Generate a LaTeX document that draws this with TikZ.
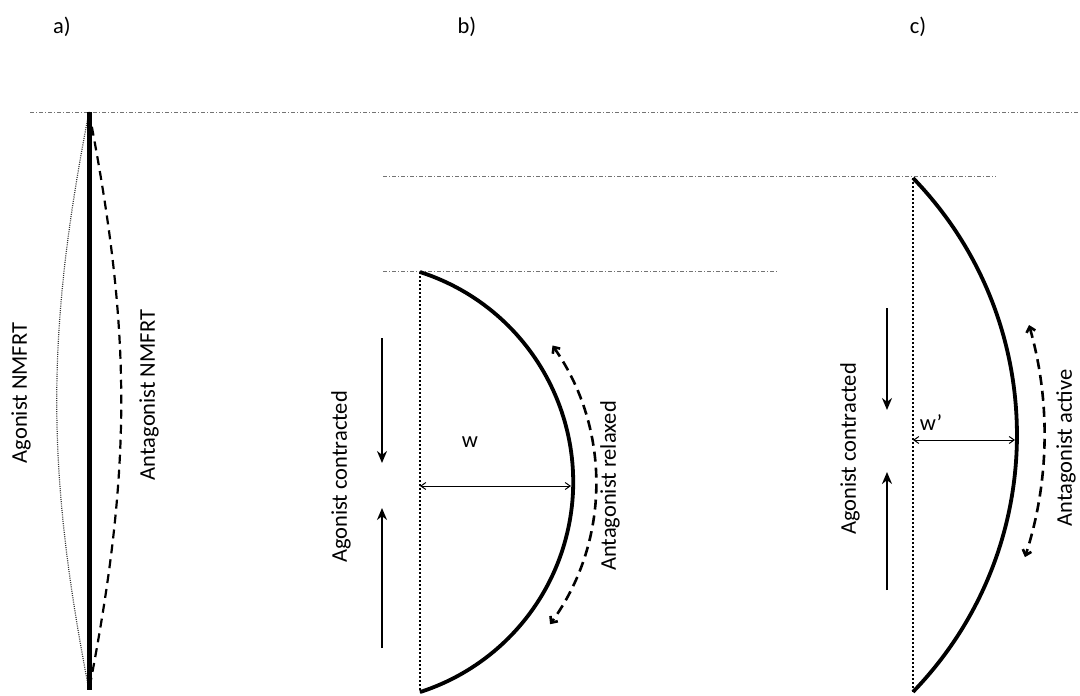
\documentclass[tikz,border=0pt]{standalone}
\usepackage{fontspec}
\setmainfont{Carlito}
\usetikzlibrary{arrows.meta}
\begin{document}
\begin{tikzpicture}[%
            x=1pt, y=1pt,
            every node/.style={font=\fontsize{22.5}{27}\selectfont, inner sep=0pt, text=black},
            levelline/.style={black!55, line width=1pt, dash pattern=on 4pt off 2pt on 1pt off 2pt},
            chord/.style={line width=2.6pt, dash pattern=on 1.6pt off 2.4pt},
            muscle/.style={line width=3.8pt},
            pull/.style={line width=2.8pt, -{Stealth[length=12pt, width=10pt]}},
            passive/.style={line width=2.6pt, dash pattern=on 10pt off 6pt,
                {Straight Barb[length=5pt, width=9pt]}-{Straight Barb[length=5pt, width=9pt]}},
            span/.style={line width=1pt, {Straight Barb[length=5pt, width=7pt]}-{Straight Barb[length=5pt, width=7pt]}}
        ]
        \useasboundingbox (0,0) rectangle (1080,-696);
        % panel labels
        \node (la) at (62,-27) {a)};
        \node (lb) at (467,-27) {b)};
        \node (lc) at (918,-27) {c)};
        % reference lines
        \coordinate (r1a) at (30,-112);   \coordinate (r1b) at (1080,-112);
        \coordinate (r2a) at (383,-176);  \coordinate (r2b) at (996,-176);
        \coordinate (r3a) at (383,-271);  \coordinate (r3b) at (778,-271);
        \draw [levelline] (r1a) -- (r1b);
        \draw [levelline] (r2a) -- (r2b);
        \draw [levelline] (r3a) -- (r3b);
        \begin{scope}
            \coordinate (atop) at (89,-112);
            \coordinate (abot) at (89,-690);
            \draw [black!80, line width=1.2pt, dash pattern=on 1pt off 1.2pt] (atop) to [bend right=11] (abot);
            \draw [line width=2.2pt, dash pattern=on 9pt off 6pt] (atop) to [bend left=11] (abot);
            \draw [line width=5pt] (atop) -- (abot);
            \node [rotate=90] (agoa) at (21,-393) {Agonist NMFRT};
            \node [rotate=90] (anta) at (149,-395) {Antagonist NMFRT};
        \end{scope}
        \begin{scope}
            \coordinate (btop) at (420,-272);
            \coordinate (bbot) at (420,-692);
            \coordinate (bmid) at (420,-486);
            \coordinate (bout) at (571,-486);
            \draw [chord] (btop) -- (bbot);
            \draw [muscle] (btop) arc [start angle=72.2, end angle=-72.2, radius=220.6pt];
            \draw [span] (bmid) -- (bout);
            \node (w) at (470,-442) {w};
            \coordinate (bd1) at (382,-338);  \coordinate (bd2) at (382,-463);
            \coordinate (bu1) at (382,-648);  \coordinate (bu2) at (382,-508);
            \draw [pull] (bd1) -- (bd2);
            \draw [pull] (bu1) -- (bu2);
            \coordinate (bp1) at (552.5,-345.5);
            \draw [passive] (bp1) arc [start angle=35, end angle=-36, radius=240pt];
            \node [rotate=90] (agob) at (341,-477) {Agonist contracted};
            \node [rotate=90] (antb) at (610,-486) {Antagonist relaxed};
        \end{scope}
        \begin{scope}
            \coordinate (ctop) at (913,-178);
            \coordinate (cbot) at (913,-692);
            \coordinate (cmid) at (913,-440);
            \coordinate (cout) at (1015,-440);
            \draw [chord] (ctop) -- (cbot);
            \draw [muscle] (ctop) arc [start angle=44.06, end angle=-44.06, radius=369.5pt];
            \draw [span] (cmid) -- (cout);
            \node (wp) at (931,-423) {w’};
            \coordinate (cd1) at (887,-308);  \coordinate (cd2) at (887,-410);
            \coordinate (cu1) at (887,-590);  \coordinate (cu2) at (887,-472);
            \draw [pull] (cd1) -- (cd2);
            \draw [pull] (cu1) -- (cu2);
            \coordinate (cp1) at (1029,-325);
            \draw [passive] (cp1) arc [start angle=16, end angle=-18, radius=397pt];
            \node [rotate=90] (antc) at (1066,-448) {Antagonist active};
            \node [rotate=90] (agoc) at (850,-449) {Agonist contracted};
        \end{scope}
    \end{tikzpicture}
\end{document}
